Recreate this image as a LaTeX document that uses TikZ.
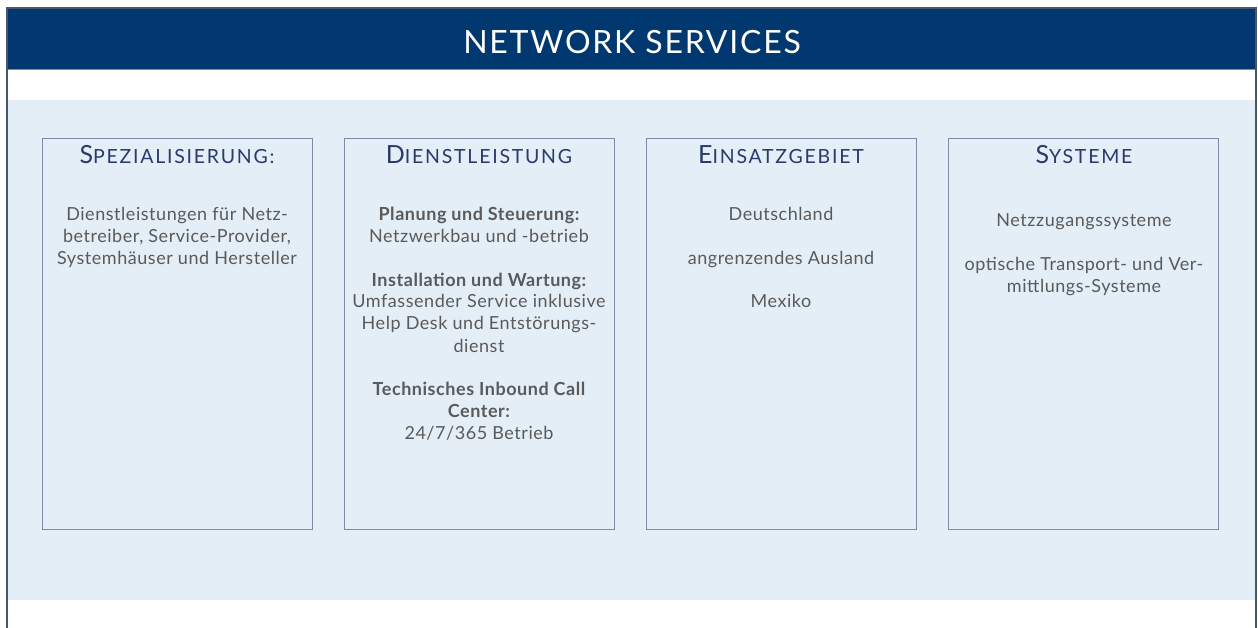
\documentclass[tikz,border=0pt]{standalone}
\usepackage{fontspec}
\setmainfont{Lato}
\definecolor{navy}{HTML}{00386F}
\definecolor{panel}{HTML}{E3EEF7}
\definecolor{boxline}{HTML}{7F8AA8}
\definecolor{frameline}{HTML}{4A5570}
\definecolor{titlecol}{HTML}{2B3A6B}
\definecolor{bodycol}{HTML}{5A5A5A}
\newcommand{\fsc}[2]{{\fontsize{25}{25}\selectfont #1}{\fontsize{19.5}{19.5}\selectfont\addfontfeatures{LetterSpace=9}#2}}
\newcommand{\bodyfont}{\fontsize{18}{20}\selectfont\addfontfeatures{LetterSpace=3}}
\tikzset{
  colbox/.style={draw=boxline, line width=1pt, fill=none},
  boxtitle/.style={anchor=base, inner sep=0pt, text=titlecol},
  bodyline/.style={anchor=base, inner sep=0pt, text=bodycol, font=\bodyfont},
  boldline/.style={bodyline, font=\bodyfont\bfseries},
}
\begin{document}
\begin{tikzpicture}[x=1pt,y=-1pt]
\useasboundingbox (0,0) rectangle (1258,628);
\fill[white] (0,0) rectangle (1258,628);
% panel
\fill[panel] (8,100) rectangle (1256,600);
% header
\fill[navy] (7,8) rectangle (1256,69);
\draw[boxline, line width=1pt] (7,69.5) -- (1256,69.5);
\draw[frameline, line width=1.2pt] (7,628) -- (7,8) -- (1256,8) -- (1256,628);
\node[anchor=base, inner sep=0pt, text=white, font=\fontsize{32}{32}\selectfont\addfontfeatures{LetterSpace=5.5}] (head) at (632,54) {NETWORK SERVICES};
% boxes
\draw[colbox] (42,139) rectangle (312,529);
\draw[colbox] (344,139) rectangle (614,529);
\draw[colbox] (646,139) rectangle (916,529);
\draw[colbox] (948,139) rectangle (1218,529);
% titles
\node[boxtitle] (t1) at (177,164) {\fsc{S}{PEZIALISIERUNG:}};
\node[boxtitle] (t2) at (479,164) {\fsc{D}{IENSTLEISTUNG}};
\node[boxtitle] (t3) at (781,164) {\fsc{E}{INSATZGEBIET}};
\node[boxtitle] (t4) at (1084,164) {\fsc{S}{YSTEME}};
% box 1
\node[bodyline] (a1) at (177,221) {Dienstleistungen für Netz-};
\node[bodyline] (a2) at (177,243) {betreiber, Service-Provider,};
\node[bodyline] (a3) at (177,265) {Systemhäuser und Hersteller};
% box 2
\node[boldline] (b1) at (479,221) {Planung und Steuerung:};
\node[bodyline] (b2) at (479,243) {Netzwerkbau und -betrieb};
\node[boldline] (b3) at (479,287) {Installation und Wartung:};
\node[bodyline] (b4) at (479,308) {Umfassender Service inklusive};
\node[bodyline] (b5) at (479,330) {Help Desk und Entstörungs-};
\node[bodyline] (b6) at (479,352) {dienst};
\node[boldline] (b7) at (479,395) {Technisches Inbound Call};
\node[boldline] (b8) at (479,417) {Center:};
\node[bodyline] (b9) at (479,439) {24/7/365 Betrieb};
% box 3
\node[bodyline] (c1) at (781,221) {Deutschland};
\node[bodyline] (c2) at (781,265) {angrenzendes Ausland};
\node[bodyline] (c3) at (781,308) {Mexiko};
% box 4
\node[bodyline] (d1) at (1084,227) {Netzzugangssysteme};
\node[bodyline] (d2) at (1084,271) {optische Transport- und Ver-};
\node[bodyline] (d3) at (1084,293) {mittlungs-Systeme};
\end{tikzpicture}
\end{document}
